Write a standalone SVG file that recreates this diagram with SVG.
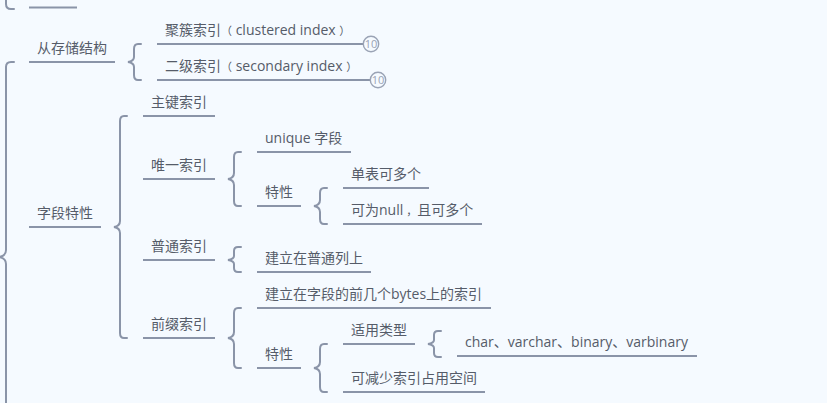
<svg xmlns="http://www.w3.org/2000/svg" width="827" height="403" viewBox="0 0 827 403">
<style>
.bg{fill:#f5faff}
text{font-family:"Open Sans","Noto Sans CJK SC",sans-serif;font-size:14px;fill:#555c69}
.p{font-size:11px}
.l{stroke:#8a94a8;stroke-width:2;fill:none}
.b{stroke:#8a94a8;stroke-width:2;fill:none;stroke-linecap:round}
.c{fill:#f5faff;stroke:#9aa3b5;stroke-width:1.4}
.n{font-size:11px;fill:#9aa3b5;text-anchor:middle}
</style>
<rect class="bg" width="827" height="403"/>
<g id="connectors">
<path class="b" d="M14 9H11Q6 9 6 4V-10"/>
<path class="b" d="M14 62H11Q6 62 6 67V250Q6 256 -1 257Q6 258 6 264V403"/>
<path class="b" d="M141 44H138Q134 44 134 49V57Q134 61 128 62Q134 63 134 67V75Q134 80 138 80H141"/>
<path class="b" d="M127 116H124Q120 116 120 121V221Q120 226 114 227Q120 228 120 233V333Q120 338 124 338H127"/>
<path class="b" d="M241 152H238Q234 152 234 157V173Q234 178 228 179Q234 180 234 185V201Q234 206 238 206H241"/>
<path class="b" d="M327 188H324Q320 188 320 193V200Q320 205 314 206Q320 207 320 212V219Q320 224 324 224H327"/>
<path class="b" d="M241 247H238Q234 247 234 251V256Q234 259 228 260Q234 261 234 264V268Q234 272 238 272H241"/>
<path class="b" d="M241 308H238Q234 308 234 313V332Q234 337 228 338Q234 339 234 344V363Q234 368 238 368H241"/>
<path class="b" d="M327 344H324Q320 344 320 349V362Q320 367 314 368Q320 369 320 374V387Q320 392 324 392H327"/>
<path class="b" d="M441 331H438Q434 331 434 335V340Q434 343 428 344Q434 345 434 348V353Q434 357 438 357H441"/>
</g>
<g id="n-top"><path class="l" d="M29 7.500H77"/></g>
<g id="n-storage"><path class="l" d="M29 62H115"/><text x="37" y="53">从存储结构</text></g>
<g id="n-clustered"><path class="l" d="M157 44H363"/><text x="165" y="35">聚簇索引<tspan class="p">（</tspan> clustered index <tspan class="p">）</tspan></text><circle class="c" cx="371" cy="44" r="7.700"/><text class="n" x="371" y="48">10</text></g>
<g id="n-secondary"><path class="l" d="M157 80H370"/><text x="165" y="71">二级索引<tspan class="p">（</tspan> secondary index <tspan class="p">）</tspan></text><circle class="c" cx="378" cy="80" r="7.700"/><text class="n" x="378" y="84">10</text></g>
<g id="n-field"><path class="l" d="M29 227H101"/><text x="37" y="218">字段特性</text></g>
<g id="n-primary"><path class="l" d="M143 116H215"/><text x="151" y="107">主键索引</text></g>
<g id="n-unique"><path class="l" d="M143 179H215"/><text x="151" y="170">唯一索引</text></g>
<g id="n-normal"><path class="l" d="M143 260H215"/><text x="151" y="251">普通索引</text></g>
<g id="n-prefix"><path class="l" d="M143 338H215"/><text x="151" y="329">前缀索引</text></g>
<g id="n-uniquefield"><path class="l" d="M257 152H351"/><text x="265" y="143">unique 字段</text></g>
<g id="n-trait1"><path class="l" d="M257 206H301"/><text x="265" y="197">特性</text></g>
<g id="n-single"><path class="l" d="M343 188H429"/><text x="351" y="179">单表可多个</text></g>
<g id="n-nullable"><path class="l" d="M343 224H482"/><text x="351" y="215">可为null<tspan class="p" dx="3">，</tspan>且可多个</text></g>
<g id="n-normalcol"><path class="l" d="M257 272H371"/><text x="265" y="263">建立在普通列上</text></g>
<g id="n-bytes"><path class="l" d="M257 308H491"/><text x="265" y="299">建立在字段的前几个bytes上的索引</text></g>
<g id="n-trait2"><path class="l" d="M257 368H301"/><text x="265" y="359">特性</text></g>
<g id="n-types"><path class="l" d="M343 344H415"/><text x="351" y="335">适用类型</text></g>
<g id="n-chars"><path class="l" d="M457 356H697"/><text x="465" y="347">char、varchar、binary、varbinary</text></g>
<g id="n-reduce"><path class="l" d="M343 392H485"/><text x="351" y="383">可减少索引占用空间</text></g>
</svg>
